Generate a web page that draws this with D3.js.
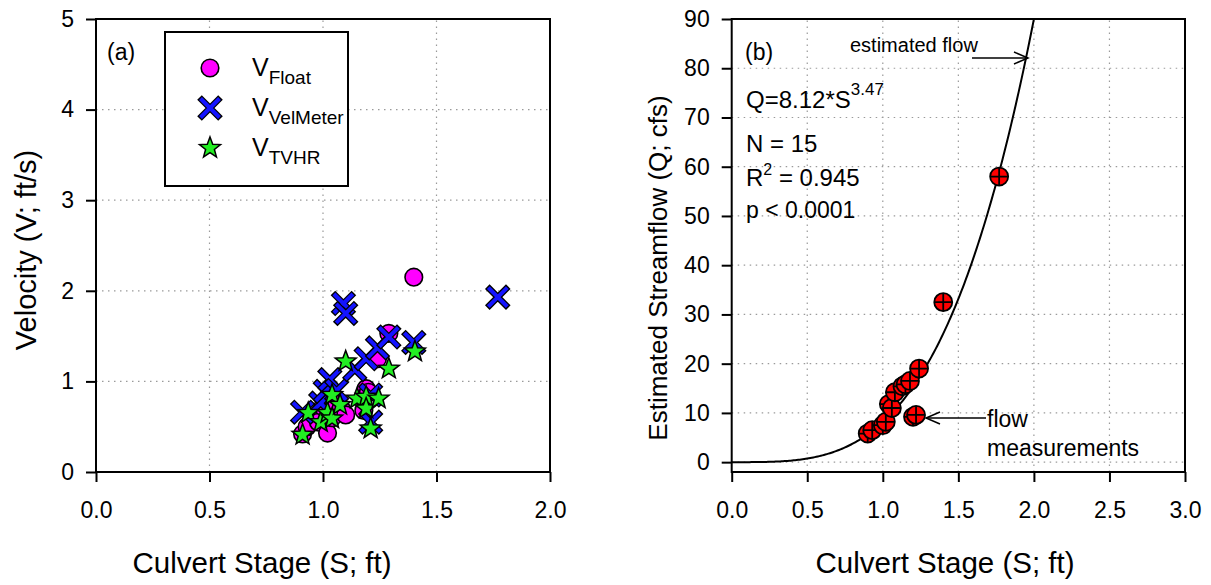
<!DOCTYPE html>
<html><head><meta charset="utf-8">
<script src="https://cdn.jsdelivr.net/npm/d3@7/dist/d3.min.js"></script>
<style>
body{margin:0;background:#fff;}
text{font-family:"Liberation Sans",Arial,sans-serif;fill:#000;}
</style></head>
<body><svg id="c" width="1211" height="585"></svg>
<script>
// ---- Data ----
const floatS = [0.91,0.93,0.98,1.00,1.02,1.04,1.06,1.08,1.10,1.18,1.19,1.20,1.24,1.29,1.40];
const floatV = [0.42,0.50,0.55,0.72,0.43,0.60,0.75,0.70,0.63,0.68,0.92,0.88,1.25,1.53,2.15];
const velS = [0.91,0.99,1.01,1.03,1.06,1.09,1.10,1.14,1.19,1.21,1.21,1.24,1.29,1.40,1.77];
const velV = [0.66,0.76,0.89,1.02,0.90,1.86,1.75,1.13,1.25,0.85,0.55,1.37,1.49,1.43,1.93];
const tvhrS = [0.91,0.935,0.99,1.02,1.04,1.04,1.075,1.10,1.15,1.19,1.19,1.21,1.245,1.29,1.405];
const tvhrV = [0.41,0.65,0.55,0.65,0.59,0.85,0.74,1.22,0.81,0.83,0.70,0.48,0.81,1.14,1.33];
const flowS = [0.90,0.93,1.00,1.02,1.04,1.06,1.08,1.13,1.15,1.18,1.20,1.22,1.24,1.40,1.77];
const flowQ = [5.8,6.5,7.5,8.2,11.8,11.0,14.2,15.4,15.8,16.5,9.2,9.6,19.0,32.5,58.0];
const fitA = 8.12, fitB = 3.47;
const xTicksA = [0,0.5,1.0,1.5,2.0];
const yTicksA = [0,1,2,3,4,5];
const xTicksB = [0,0.5,1.0,1.5,2.0,2.5,3.0];
const yTicksB = [0,10,20,30,40,50,60,70,80,90];
const legendLabels = ["Float","VelMeter","TVHR"];

const svg = d3.select("#c");
const FONT = "Liberation Sans, Arial, sans-serif";

// ---- Scales ----
const xA = d3.scaleLinear().domain([0,2]).range([96,550]);
const yA = d3.scaleLinear().domain([0,5]).range([472,19]);
const xB = d3.scaleLinear().domain([0,3]).range([731.7,1185]);
const yB = d3.scaleLinear().domain([-2,90]).range([472,19]);

function grid(g, x, y, xt, yt){
  const x0=x.range()[0], x1=x.range()[1], y0=y.range()[0], y1=y.range()[1];
  xt.filter(v=>x(v)>x0+1 && x(v)<x1-1).forEach(v=>{
    g.append("line").attr("x1",x(v)).attr("x2",x(v)).attr("y1",y0).attr("y2",y1)
     .attr("stroke","#9a9a9a").attr("stroke-width",1.2).attr("stroke-dasharray","1.5,4.5");
  });
  yt.filter(v=>y(v)<y0-1 && y(v)>y1+1).forEach(v=>{
    g.append("line").attr("x1",x0).attr("x2",x1).attr("y1",y(v)).attr("y2",y(v))
     .attr("stroke","#9a9a9a").attr("stroke-width",1.2).attr("stroke-dasharray","1.5,4.5");
  });
}
function axes(g, x, y, xt, yt, xfmt, yfmt){
  const ax = g.append("g").attr("transform",`translate(0,${y.range()[0]})`)
    .call(d3.axisBottom(x).tickValues(xt).tickFormat(xfmt).tickSize(10).tickPadding(20));
  const ay = g.append("g").attr("transform",`translate(${x.range()[0]},0)`)
    .call(d3.axisLeft(y).tickValues(yt).tickFormat(yfmt).tickSize(10).tickPadding(12));
  [ax,ay].forEach(a=>{
    a.select(".domain").remove();
    a.selectAll(".tick line").attr("stroke","#000").attr("stroke-width",2);
    a.selectAll(".tick text").attr("font-size",23).attr("font-family",FONT).attr("fill","#000");
  });
  g.append("rect").attr("x",x.range()[0]).attr("y",y.range()[1])
   .attr("width",x.range()[1]-x.range()[0]).attr("height",y.range()[0]-y.range()[1])
   .attr("fill","none").attr("stroke","#000").attr("stroke-width",2);
}

// ---- Markers ----
function circleM(g,cx,cy){
  g.append("circle").attr("cx",cx).attr("cy",cy).attr("r",8.8)
   .attr("fill","#ff00ff").attr("stroke","#000").attr("stroke-width",1.6);
}
function xM(g,cx,cy){
  const s=10.5, s2=9.5;
  g.append("path").attr("d",`M${cx-s},${cy-s}L${cx+s},${cy+s}M${cx-s},${cy+s}L${cx+s},${cy-s}`)
   .attr("stroke","#000").attr("stroke-width",6.5).attr("fill","none");
  g.append("path").attr("d",`M${cx-s2},${cy-s2}L${cx+s2},${cy+s2}M${cx-s2},${cy+s2}L${cx+s2},${cy-s2}`)
   .attr("stroke","#1414ff").attr("stroke-width",4).attr("fill","none");
}
function starM(g,cx,cy){
  const R=11, r=R*0.42, pts=[];
  for(let i=0;i<10;i++){
    const a = -Math.PI/2 + i*Math.PI/5, rr = i%2?r:R;
    pts.push([cx+rr*Math.cos(a), cy+rr*Math.sin(a)]);
  }
  g.append("path").attr("d","M"+pts.map(p=>p.join(",")).join("L")+"Z")
   .attr("fill","#22ee22").attr("stroke","#000").attr("stroke-width",1.5).attr("stroke-linejoin","miter");
}
function crossCircle(g,cx,cy){
  const r=9;
  g.append("circle").attr("cx",cx).attr("cy",cy).attr("r",r)
   .attr("fill","#ff0000").attr("stroke","#000").attr("stroke-width",1.8);
  g.append("path").attr("d",`M${cx-r},${cy}L${cx+r},${cy}M${cx},${cy-r}L${cx},${cy+r}`)
   .attr("stroke","#000").attr("stroke-width",1.8);
}

// ---- Panel A ----
const gA = svg.append("g");
grid(gA,xA,yA,xTicksA,yTicksA);
floatS.forEach((s,i)=>circleM(gA,xA(s),yA(floatV[i])));
velS.forEach((s,i)=>xM(gA,xA(s),yA(velV[i])));
tvhrS.forEach((s,i)=>starM(gA,xA(s),yA(tvhrV[i])));
axes(gA,xA,yA,xTicksA,yTicksA,d3.format(".1f"),d3.format("d"));
gA.append("text").attr("x",107).attr("y",60).attr("font-size",23).text("(a)");

// legend
const lg = gA.append("g");
lg.append("rect").attr("x",165).attr("y",32).attr("width",183).attr("height",154)
  .attr("fill","#fff").attr("stroke","#000").attr("stroke-width",2);
const legY=[68,108,148];
circleM(lg,210,legY[0]); xM(lg,210,legY[1]); starM(lg,210,legY[2]);
legendLabels.forEach((l,i)=>{
  const t=lg.append("text").attr("x",252).attr("y",legY[i]+8).attr("font-size",25);
  t.append("tspan").text("V");
  t.append("tspan").attr("dy",8).attr("font-size",19).text(l);
});

// titles A
svg.append("text").attr("x",262).attr("y",573).attr("text-anchor","middle").attr("font-size",29.5)
  .text("Culvert Stage (S; ft)");
svg.append("text").attr("transform","translate(36,250) rotate(-90)").attr("text-anchor","middle")
  .attr("font-size",29).text("Velocity (V; ft/s)");

// ---- Panel B ----
const gB = svg.append("g");
grid(gB,xB,yB,xTicksB,yTicksB);
gB.append("clipPath").attr("id","clipB").append("rect")
  .attr("x",xB.range()[0]).attr("y",yB.range()[1]).attr("width",xB.range()[1]-xB.range()[0])
  .attr("height",yB.range()[0]-yB.range()[1]);
const curveS = d3.range(0,2.101,0.01);
gB.append("path").attr("clip-path","url(#clipB)")
  .attr("d", d3.line().x(s=>xB(s)).y(s=>yB(fitA*Math.pow(s,fitB)))(curveS))
  .attr("fill","none").attr("stroke","#000").attr("stroke-width",2);
flowS.forEach((s,i)=>crossCircle(gB,xB(s),yB(flowQ[i])));
axes(gB,xB,yB,xTicksB,yTicksB,d3.format(".1f"),d3.format("d"));

gB.append("text").attr("x",745).attr("y",60).attr("font-size",23).text("(b)");
gB.append("text").attr("x",850).attr("y",52).attr("font-size",20).text("estimated flow");
function arrow(g,x1,y1,x2,y2){
  g.append("line").attr("x1",x1).attr("y1",y1).attr("x2",x2).attr("y2",y2)
   .attr("stroke","#000").attr("stroke-width",1.5);
  const dir = Math.sign(x2-x1);
  g.append("path").attr("d",`M${x2-dir*14},${y2-6}L${x2},${y2}L${x2-dir*14},${y2+6}`)
   .attr("fill","none").attr("stroke","#000").attr("stroke-width",1.5);
}
arrow(gB,972,58,1028,58);
arrow(gB,986,418,926,418);
gB.append("text").attr("x",987).attr("y",427).attr("font-size",23).text("flow");
gB.append("text").attr("x",987).attr("y",456).attr("font-size",23).text("measurements");

const eq = gB.append("text").attr("x",746).attr("y",108).attr("font-size",24);
eq.append("tspan").text("Q=8.12*S");
eq.append("tspan").attr("dy",-13).attr("font-size",17).text("3.47");
gB.append("text").attr("x",746).attr("y",152).attr("font-size",24).text("N = 15");
const r2 = gB.append("text").attr("x",746).attr("y",186).attr("font-size",24);
r2.append("tspan").text("R");
r2.append("tspan").attr("dy",-11).attr("font-size",16).text("2");
r2.append("tspan").attr("dy",11).text(" = 0.945");
gB.append("text").attr("x",746).attr("y",218).attr("font-size",23).text("p < 0.0001");

svg.append("text").attr("x",945).attr("y",573).attr("text-anchor","middle").attr("font-size",29.5)
  .text("Culvert Stage (S; ft)");
svg.append("text").attr("transform","translate(667,268) rotate(-90)").attr("text-anchor","middle")
  .attr("font-size",26).text("Estimated Streamflow (Q; cfs)");
</script></body></html>
